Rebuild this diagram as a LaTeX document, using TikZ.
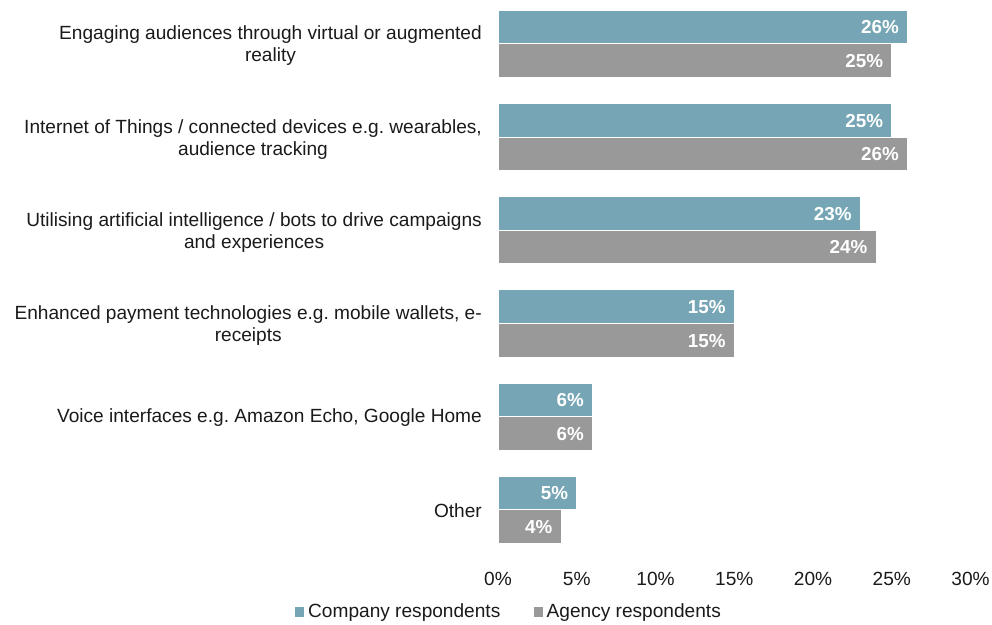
\documentclass[tikz,border=0pt]{standalone}
\usepackage{fontspec}
\setmainfont{Liberation Sans}
\frenchspacing
\definecolor{comp}{HTML}{76A6B5}
\definecolor{agen}{HTML}{999999}
\definecolor{txt}{HTML}{1A1A1A}
\begin{document}
\begin{tikzpicture}[x=1pt,y=-1pt,
  every node/.style={font=\fontsize{19.1}{22}\selectfont, text=txt, inner sep=0pt},
  cbar/.style={fill=comp, draw=white, line width=0.6pt},
  abar/.style={fill=agen, draw=white, line width=0.6pt},
  val/.style={anchor=east, text=white, font=\fontsize{18.8}{22}\selectfont\bfseries},
  cat/.style={anchor=east, align=center},
  tick/.style={anchor=center},
  key/.style={minimum width=9pt, minimum height=10pt, anchor=center}]
\useasboundingbox (0,0) rectangle (992,624);
\foreach \i/\c/\a in {0/26/25,1/25/26,2/23/24,3/15/15,4/6/6,5/5/4}{
  \pgfmathsetmacro\tp{10+93.2*\i}
  \pgfmathsetmacro\md{\tp+33.6}
  \pgfmathsetmacro\bt{\tp+67.2}
  \pgfmathsetmacro\ce{498+15.75*\c}
  \pgfmathsetmacro\ae{498+15.75*\a}
  \path[cbar] (498,\tp) rectangle (\ce,\md);
  \path[abar] (498,\md) rectangle (\ae,\bt);
  \node[val] (cv\i) at (\ce-8.5,\tp+17.5) {\c\%};
  \node[val] (av\i) at (\ae-8.5,\md+17.5) {\a\%};
}
\node[cat] (l0) at (482,46) {Engaging audiences through virtual or augmented\\reality};
\node[cat] (l1) at (482,139.2) {Internet of Things / connected devices e.g. wearables,\\audience tracking};
\node[cat] (l2) at (482,232.4) {Utilising artificial intelligence / bots to drive campaigns\\and experiences};
\node[cat] (l3) at (482,325.6) {Enhanced payment technologies e.g. mobile wallets, e-\\receipts};
\node[cat] (l4) at (482,418) {Voice interfaces e.g. Amazon Echo, Google Home};
\node[cat] (l5) at (482,511) {Other};
\foreach \t in {0,5,10,15,20,25,30}{
  \node[tick] (t\t) at (498+15.75*\t,579) {\t\%};
}
\node[key, fill=comp] (kc) at (299,612) {};
\node[anchor=west] (kct) at (308,613) {Company respondents};
\node[key, fill=agen] (ka) at (538,612) {};
\node[anchor=west] (kat) at (546.5,613) {Agency respondents};
\end{tikzpicture}
\end{document}
